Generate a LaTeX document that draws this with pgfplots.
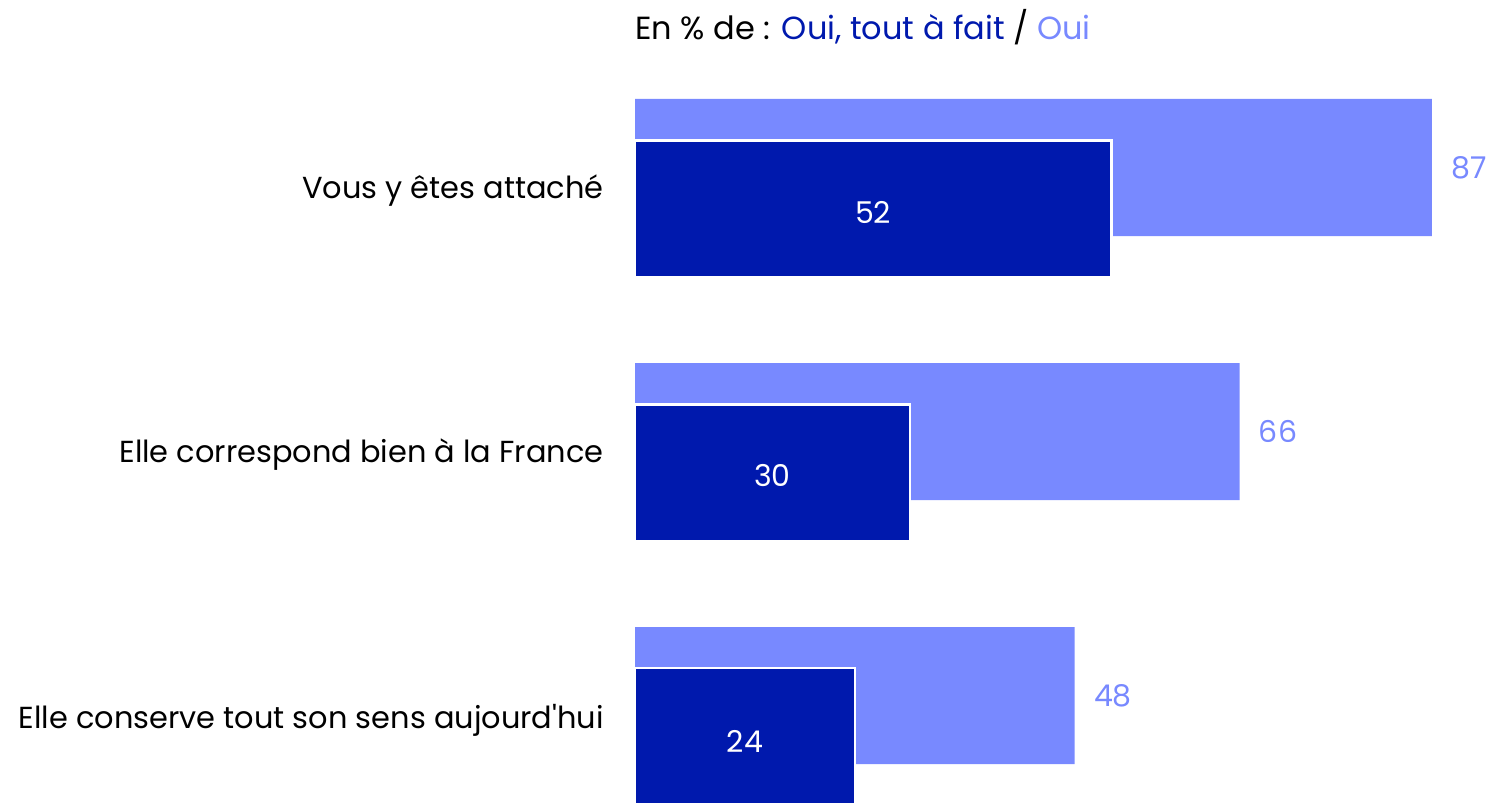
\documentclass[border=0pt]{standalone}
\usepackage{pgfplots}
\pgfplotsset{compat=1.18}
\usepackage{fontspec}
\setmainfont{Poppins}[Ligatures=TeXOff]
\definecolor{lightb}{HTML}{7889FF}
\definecolor{darkb}{HTML}{0019AD}
\begin{document}
\begin{tikzpicture}[x=0.5pt,y=0.5pt]
\path[use as bounding box] (0,0) rectangle (1491,802);
\begin{axis}[
  at={(317.5pt,0pt)}, anchor=south west,
  scale only axis, width=428pt, height=401pt,
  xmin=0, xmax=93.45, ymin=0, ymax=802, y dir=reverse,
  axis line style={draw=none}, major tick length=0pt, xtick=\empty, clip=true,
  /pgf/number format/assume math mode=true,
  ytick={191,455,720},
  yticklabels={Vous y êtes attaché\ ,Elle correspond bien à la France,Elle conserve tout son sens aujourd'hui},
  yticklabel style={font=\fontsize{15.2}{18}\selectfont, anchor=east, inner sep=0pt, xshift=-15.5pt},
  xbar, bar width=68.5pt, bar shift=0pt,
  every node near coord/.append style={font=\fontsize{15}{18}\selectfont},
]
\addplot[fill=lightb, draw=none, nodes near coords, nodes near coords style={lightb, anchor=west, inner sep=0pt, xshift=9.5pt}]
  coordinates {(87,167.5) (66,431.5) (48,695.5)};
\addplot[fill=darkb, draw=white, line width=1.2pt]
  coordinates {(52,209) (30,473) (24,736.5)};
\addplot[only marks, mark=none, xbar=0pt, draw=none, fill=none, nodes near coords, point meta=explicit symbolic,
  nodes near coords style={white, anchor=center, inner sep=0pt}]
  coordinates {(26,212) [52] (15,476) [30] (12,741) [24]};
\end{axis}
\node[anchor=west, inner sep=0pt, font=\fontsize{16}{19}\selectfont] at (635,775) {En \% de : \textcolor{darkb}{Oui, tout à fait} / \textcolor{lightb}{Oui}};
\end{tikzpicture}
\end{document}
